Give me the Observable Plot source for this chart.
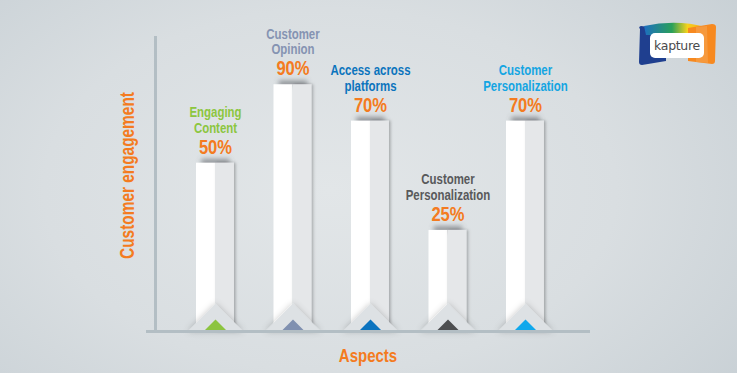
<!DOCTYPE html>
<html>
<head>
<meta charset="utf-8">
<script src="https://cdn.jsdelivr.net/npm/d3@7"></script>
<script src="https://cdn.jsdelivr.net/npm/@observablehq/plot@0.6"></script>
<style>
  html, body { margin: 0; padding: 0; }
  body {
    width: 737px; height: 373px; overflow: hidden; position: relative;
    background: radial-gradient(ellipse 520px 330px at 330px 190px, #e2e6e8 0%, #d9dee1 55%, #c8d0d5 100%);
    font-family: "Liberation Sans", Arial, sans-serif;
  }
  #chart { position: absolute; left: 0; top: 0; }
  #logo { position: absolute; left: 636px; top: 21px; }
</style>
</head>
<body>
<div id="chart"></div>
<svg id="logo" width="82" height="47" viewBox="0 0 82 47">
  <defs>
    <linearGradient id="lgTop" x1="0" x2="1" y1="0" y2="0">
      <stop offset="0" stop-color="#1d6fc0"/>
      <stop offset="0.45" stop-color="#2aa05a"/>
      <stop offset="0.7" stop-color="#f6d21c"/>
      <stop offset="1" stop-color="#f7a21b"/>
    </linearGradient>
  </defs>
  <path d="M4,8 Q2,6 5,5 L30,8 L30,40 L6,44 Q3,44 3,41 Z" fill="#1f3f8f"/>
  <path d="M8,5 Q40,-2 70,6 L70,14 L10,14 Z" fill="url(#lgTop)"/>
  <path d="M52,7 L76,3 Q80,3 80,6 L79,40 Q79,43 76,43 L52,40 Z" fill="#f7891f"/>
  <path d="M60,6 L71,5 L72,42 L60,41 Z" fill="#f5a04a" opacity="0.7"/>
  <rect x="14" y="12" width="54" height="25" rx="5" fill="#ffffff"/>
  <text x="41" y="29" text-anchor="middle" font-family="'DejaVu Sans', sans-serif" font-size="12.5" fill="#4a4a4c" letter-spacing="-0.3">kapture</text>
</svg>
<script>
// ---- data ----
const nameLines = [
  ["Engaging", "Content"],
  ["Customer", "Opinion"],
  ["Access across", "platforms"],
  ["Customer", "Personalization"],
  ["Customer", "Personalization"]
];
const values = [50, 90, 70, 25, 70];
const valueLabels = ["50%", "90%", "70%", "25%", "70%"];
const nameColors = ["#8cc63f", "#8593b2", "#0b74bd", "#58595b", "#14a5e2"];
const markerColors = ["#8cc440", "#8090b0", "#0b73bf", "#4d4e50", "#10a8ec"];
const yTitle = "Customer engagement";
const xTitle = "Aspects";

const ORANGE = "#f47b20";
const HALF = 0.245;            // half bar width, in x units
const X_DOMAIN = [-0.774, 4.839];
const Y_DOMAIN = [3.56, 120.4]; // sqrt scale, as the picture's bar heights suggest
const FONT = '"Liberation Sans", Arial, sans-serif';
const NARROW = 0.79;           // horizontal compression to mimic a condensed face

const data = values.map((v, i) => ({
  i, v,
  name: nameLines[i].join("\n"),
  pct: valueLabels[i],
  nc: nameColors[i],
  mc: markerColors[i]
}));
const base = Y_DOMAIN[0];

const chevron = {
  draw(ctx, size) {
    const r = Math.sqrt(size / Math.PI);
    ctx.moveTo(0, -r); ctx.lineTo(r, 0); ctx.lineTo(-r, 0); ctx.closePath();
  }
};

const plot = Plot.plot({
  width: 737,
  height: 373,
  marginLeft: 155,
  marginRight: 147,
  marginTop: 36,
  marginBottom: 42,
  style: { background: "transparent", fontFamily: FONT },
  x: { type: "linear", domain: X_DOMAIN, axis: null },
  y: { type: "sqrt", domain: Y_DOMAIN, axis: null },
  color: { type: "identity" },
  marks: [
    // 0: top shadow (under the bars)
    Plot.link(data, { x1: d => d.i - HALF * 0.75, x2: d => d.i + HALF * 0.75, y1: "v", y2: "v", dy: -1, stroke: "#55595d", strokeWidth: 6, strokeOpacity: 0.6 }),
    // 1: bars, white left face
    Plot.rect(data, { x1: d => d.i - HALF, x2: d => d.i, y1: base, y2: "v", fill: "#ffffff" }),
    // 2: bars, grey right face
    Plot.rect(data, { x1: d => d.i, x2: d => d.i + HALF, y1: base, y2: "v", fill: "#e5e7e9" }),
    // 3: chevron at the foot
    Plot.dot(data, { x: "i", y: base, r: 28, symbol: chevron, fill: "#dde1e4", stroke: "none" }),
    // 4: coloured triangle
    Plot.dot(data, { x: "i", y: base, dy: -1.5, r: 10.5, symbol: chevron, fill: "mc", stroke: "none" }),
    // 5, 6: axes
    Plot.ruleX([X_DOMAIN[0]], { stroke: "#b3bec4", strokeWidth: 3 }),
    Plot.ruleY([base], { stroke: "#b3bec4", strokeWidth: 3, insetLeft: -9 }),
    // labels
    Plot.text(data, { x: "i", y: "v", text: "pct", dy: -9.3, lineAnchor: "bottom", fill: ORANGE, fontSize: 21, fontWeight: "bold" }),
    Plot.text(data, { x: "i", y: "v", text: "name", dy: -30.5, lineAnchor: "bottom", lineHeight: 1.08, fill: "nc", fontSize: 14.5, fontWeight: "bold" }),
    // axis titles
    Plot.text([yTitle], { frameAnchor: "left", textAnchor: "middle", dx: -28, dy: -8.5, rotate: -90, fill: ORANGE, fontSize: 19.5, fontWeight: "bold", lineAnchor: "middle" }),
    Plot.text([xTitle], { frameAnchor: "bottom", textAnchor: "middle", dx: -5, dy: 24, fill: ORANGE, fontSize: 19, fontWeight: "bold", lineAnchor: "middle" })
  ]
});

// soft shading filters
const svg = d3.select(plot);
const defs = svg.insert("defs", ":first-child");
function filt(id) {
  return defs.append("filter").attr("id", id).attr("filterUnits", "userSpaceOnUse")
    .attr("x", 0).attr("y", 0).attr("width", 737).attr("height", 373);
}
filt("barShadow").append("feDropShadow").attr("dx", 1.5).attr("dy", 0).attr("stdDeviation", 1.6)
  .attr("flood-color", "#000").attr("flood-opacity", 0.28);
filt("blur3").append("feGaussianBlur").attr("stdDeviation", 2.4);
filt("chevShadow").append("feDropShadow").attr("dx", 0).attr("dy", 0).attr("stdDeviation", 3)
  .attr("flood-color", "#000").attr("flood-opacity", 0.22);
const groups = svg.selectAll(":scope > g").nodes();
d3.select(groups[0]).attr("filter", "url(#blur3)");
d3.select(groups[2]).attr("filter", "url(#barShadow)");
d3.select(groups[3]).attr("filter", "url(#chevShadow)");

// condense the lettering (the reference uses a condensed face)
svg.selectAll("text").each(function () {
  const t = this.getAttribute("transform");
  if (t) this.setAttribute("transform", t + ` scale(${NARROW},1)`);
});

document.getElementById("chart").appendChild(plot);
</script>
</body>
</html>
